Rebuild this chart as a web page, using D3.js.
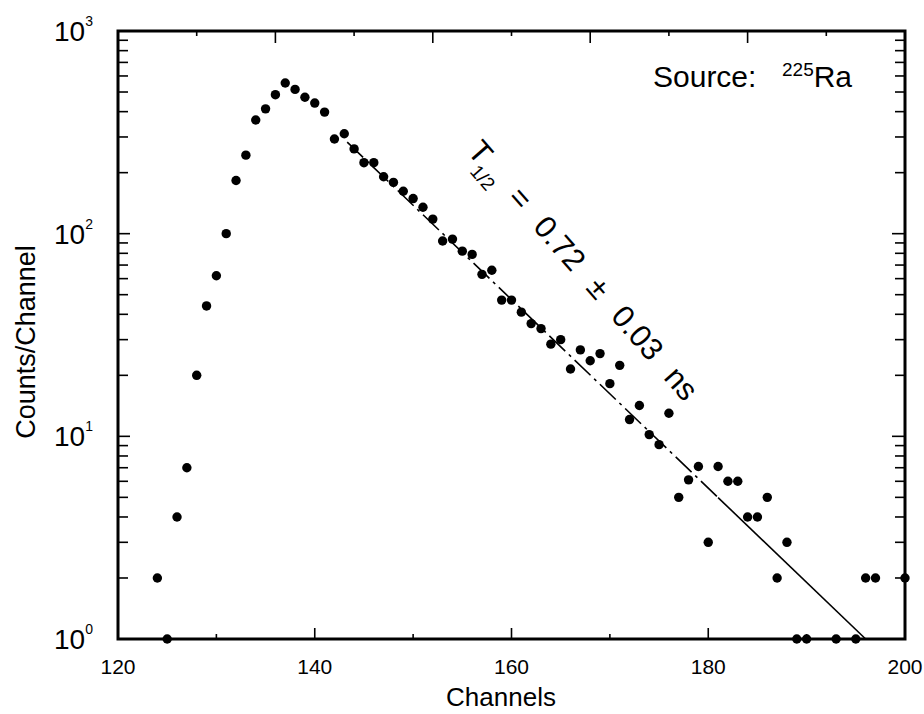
<!DOCTYPE html>
<html>
<head>
<meta charset="utf-8">
<title>225Ra time spectrum</title>
<style>
  body { margin: 0; background: #fff; }
  text { font-family: "Liberation Sans", Arial, sans-serif; fill: #000; }
</style>
</head>
<body>
<svg></svg>
<script src="https://d3js.org/d3.v7.min.js"></script>
<script>
// channel numbers and counts
const channels = [124, 125, 126, 127, 128, 129, 130, 131, 132, 133, 134, 135, 136, 137, 138, 139,
  140, 141, 142, 143, 144, 145, 146, 147, 148, 149, 150, 151, 152, 153, 154, 155, 156, 157, 158, 159,
  160, 161, 162, 163, 164, 165, 166, 167, 168, 169, 170, 171, 172, 173, 174, 175, 176, 177, 178, 179,
  180, 181, 182, 183, 184, 185, 186, 187, 188, 189, 190, 193, 195, 196, 197, 200];
const counts = [2.0, 1.0, 4.0, 7.0, 20, 44, 62, 100, 183, 244, 364, 413, 485, 554, 515, 471,
  441, 398, 293, 311, 262, 224, 224, 191, 179, 162, 149, 135, 118, 92, 94, 82, 79, 63, 66, 47,
  47, 41, 36, 34, 28.5, 30, 21.5, 26.7, 23.6, 25.6, 18.2, 22.4, 12.1, 14.2, 10.2, 9.1, 13.0, 5.0, 6.1, 7.1,
  3.0, 7.1, 6.0, 6.0, 4.0, 4.0, 5.0, 2.0, 3.0, 1, 1, 1, 1, 2, 2, 2];

// fitted decay line (end points) and where it turns from dash-dot to solid
const fitChannels = [143.3, 196];
const fitCounts = [283, 1];
const fitSolidFrom = 181;

const xTickValues = [120, 140, 160, 180, 200];
const xMinorValues = [130, 150, 170, 190];
const yDecades = [1, 10, 100, 1000];
const yExponents = ["0", "1", "2", "3"];

const width = 924;
const height = 714;
const plotLeft = 118, plotRight = 905, plotTop = 31, plotBottom = 639;

const svg = d3.select("svg")
  .attr("width", width)
  .attr("height", height)
  .attr("viewBox", [0, 0, width, height]);

const x = d3.scaleLinear([120, 200], [plotLeft, plotRight]);
const y = d3.scaleLog([1, 1000], [plotBottom, plotTop]);
const xTop = d3.scaleLinear([0, 10], [plotLeft, plotRight]);

// frame
svg.append("rect")
  .attr("x", plotLeft).attr("y", plotTop)
  .attr("width", plotRight - plotLeft).attr("height", plotBottom - plotTop)
  .attr("fill", "none").attr("stroke", "#000").attr("stroke-width", 3);

// log ticks on left and right
const yTicks = [];
yDecades.slice(0, 3).forEach(d => {
  for (let m = 1; m <= 9; m++) yTicks.push({ v: d * m, major: m === 1 });
});
const ticks = svg.append("g").attr("stroke", "#000").attr("stroke-width", 1.6);
ticks.append("g").selectAll("line").data(yTicks).join("line")
  .attr("x1", plotLeft).attr("x2", d => plotLeft + (d.major ? 12 : 10))
  .attr("y1", d => y(d.v)).attr("y2", d => y(d.v));
ticks.append("g").selectAll("line").data(yTicks).join("line")
  .attr("x1", plotRight).attr("x2", d => plotRight - (d.major ? 13 : 10))
  .attr("y1", d => y(d.v)).attr("y2", d => y(d.v));

// bottom ticks
ticks.append("g").selectAll("line").data(xTickValues.concat(xMinorValues)).join("line")
  .attr("x1", d => x(d)).attr("x2", d => x(d))
  .attr("y1", plotBottom).attr("y2", d => plotBottom - (xMinorValues.includes(d) ? 5 : 11));

// top ticks
ticks.append("g").selectAll("line").data(d3.range(1, 10)).join("line")
  .attr("x1", d => xTop(d)).attr("x2", d => xTop(d))
  .attr("y1", plotTop).attr("y2", d => plotTop + (d % 2 ? 5 : 12));

// x tick labels
svg.append("g").selectAll("text").data(xTickValues).join("text")
  .attr("x", d => x(d)).attr("y", plotBottom + 35)
  .attr("text-anchor", "middle").attr("font-size", 21)
  .text(d => d);

// y tick labels 10^n
const yl = svg.append("g").selectAll("text").data(yDecades).join("text")
  .attr("x", 93).attr("y", d => y(d) + 10)
  .attr("text-anchor", "end").attr("font-size", 28);
yl.append("tspan").text("10");
yl.append("tspan").attr("dy", -15).attr("font-size", 14).text((d, i) => yExponents[i]);

// axis titles
svg.append("text")
  .attr("x", 501).attr("y", 706)
  .attr("text-anchor", "middle").attr("font-size", 26)
  .text("Channels");
svg.append("text")
  .attr("transform", "translate(35,342) rotate(-90)")
  .attr("text-anchor", "middle").attr("font-size", 27)
  .text("Counts/Channel");

// fit line
const fitLog = d3.scaleLinear(fitChannels, fitCounts.map(Math.log10));
const fitLine = d3.line().x(c => x(c)).y(c => y(10 ** fitLog(c)));
svg.append("path")
  .attr("d", fitLine([fitChannels[0], fitSolidFrom]))
  .attr("fill", "none").attr("stroke", "#000").attr("stroke-width", 1.6)
  .attr("stroke-dasharray", "22,5,3,5");
svg.append("path")
  .attr("d", fitLine([fitSolidFrom, fitChannels[1]]))
  .attr("fill", "none").attr("stroke", "#000").attr("stroke-width", 1.6);

// data points
svg.append("g").selectAll("circle").data(channels).join("circle")
  .attr("cx", d => x(d))
  .attr("cy", (d, i) => y(counts[i]))
  .attr("r", 4.7)
  .attr("fill", "#000");

// half-life annotation
const ann = svg.append("text")
  .attr("transform", `translate(${x(155.4)},${y(253)}) rotate(49)`)
  .attr("font-size", 31)
  .attr("word-spacing", 12);
ann.append("tspan").text("T");
ann.append("tspan").attr("dy", 11).attr("dx", -2).attr("font-size", 19).text("1/2");
ann.append("tspan").attr("dy", -11).attr("dx", 18).text("= 0.72 ± 0.03 ns");

// source label
svg.append("text").attr("x", 653).attr("y", 87).attr("font-size", 30).text("Source:");
const src = svg.append("text").attr("x", 782).attr("y", 87).attr("font-size", 30);
src.append("tspan").attr("dy", -11).attr("font-size", 19).text("225");
src.append("tspan").attr("dy", 11).text("Ra");
</script>
</body>
</html>
